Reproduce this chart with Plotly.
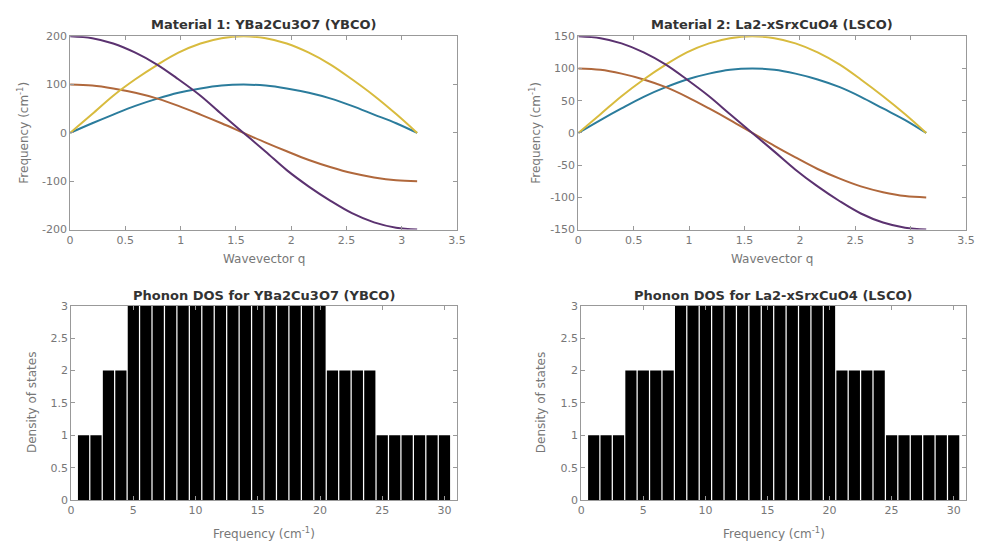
import plotly.graph_objects as go

# ---------------- data ----------------
wavevector_q = [0, 0.2, 0.39, 0.59, 0.79, 0.98, 1.18, 1.37, 1.57, 1.77, 1.96, 2.16, 2.36, 2.55, 2.75, 2.95, 3.14]

ybco_blue = [0, 20, 38, 56, 71, 83, 92, 98, 100, 98, 92, 83, 71, 56, 38, 20, 0]
ybco_orange = [100, 98, 92, 83, 71, 56, 38, 20, 0, -20, -38, -56, -71, -83, -92, -98, -100]
ybco_yellow = [0, 39, 77, 111, 141, 166, 185, 196, 200, 196, 185, 166, 141, 111, 77, 39, 0]
ybco_purple = [200, 196, 185, 166, 141, 111, 77, 39, 0, -39, -77, -111, -141, -166, -185, -196, -200]

lsco_blue = [0, 20, 38, 56, 71, 83, 92, 98, 100, 98, 92, 83, 71, 56, 38, 20, 0]
lsco_orange = [100, 98, 92, 83, 71, 56, 38, 20, 0, -20, -38, -56, -71, -83, -92, -98, -100]
lsco_yellow = [0, 29, 57, 83, 106, 125, 139, 147, 150, 147, 139, 125, 106, 83, 57, 29, 0]
lsco_purple = [150, 147, 139, 125, 106, 83, 57, 29, 0, -29, -57, -83, -106, -125, -139, -147, -150]

dos_freq = list(range(1, 31))
ybco_dos = [1, 1, 2, 2, 3, 3, 3, 3, 3, 3, 3, 3, 3, 3, 3, 3, 3, 3, 3, 3, 2, 2, 2, 2, 1, 1, 1, 1, 1, 1]
lsco_dos = [1, 1, 1, 2, 2, 2, 2, 3, 3, 3, 3, 3, 3, 3, 3, 3, 3, 3, 3, 3, 2, 2, 2, 2, 1, 1, 1, 1, 1, 1]

titles = ["Material 1: YBa2Cu3O7 (YBCO)", "Material 2: La2-xSrxCuO4 (LSCO)",
          "Phonon DOS for YBa2Cu3O7 (YBCO)", "Phonon DOS for La2-xSrxCuO4 (LSCO)"]

q_ticks = [0, 0.5, 1, 1.5, 2, 2.5, 3, 3.5]
ybco_freq_ticks = [-200, -100, 0, 100, 200]
lsco_freq_ticks = [-150, -100, -50, 0, 50, 100, 150]
dos_x_ticks = [0, 5, 10, 15, 20, 25, 30]
dos_y_ticks = [0, 0.5, 1, 1.5, 2, 2.5, 3]

# ---------------- style ----------------
colors = ["#2b7c9c", "#b0683c", "#d8bb3e", "#5b3270"]
FONT = "DejaVu Sans, sans-serif"
W, H = 983, 551

fig = go.Figure()

def add_curves(xa, ya, series):
    for vals, c in zip(series, colors):
        fig.add_trace(go.Scatter(x=wavevector_q, y=vals, mode="lines",
                                 line=dict(color=c, width=2, shape="spline"),
                                 xaxis=xa, yaxis=ya, showlegend=False))

add_curves("x", "y", [ybco_blue, ybco_orange, ybco_yellow, ybco_purple])
add_curves("x2", "y2", [lsco_blue, lsco_orange, lsco_yellow, lsco_purple])

fig.add_trace(go.Bar(x=dos_freq, y=ybco_dos, marker=dict(color="black", line=dict(width=0)),
                     xaxis="x3", yaxis="y3", showlegend=False))
fig.add_trace(go.Bar(x=dos_freq, y=lsco_dos, marker=dict(color="black", line=dict(width=0)),
                     xaxis="x4", yaxis="y4", showlegend=False))

def px_x(p):
    return p / W

def px_y(p):
    return 1 - p / H

def fmt(v):
    return ("%g" % v)

axcommon = dict(showgrid=False, zeroline=False, showline=True, linecolor="#999999", linewidth=1,
                mirror="ticks", ticks="inside", ticklen=4, tickcolor="#999999",
                tickfont=dict(family=FONT, size=11, color="#777777"))

def ticks(vals):
    return dict(tickvals=vals, ticktext=[fmt(v) for v in vals])

dom = {
    1: ([px_x(67), px_x(459)], [px_y(229), px_y(31)]),
    2: ([px_x(582), px_x(975)], [px_y(229), px_y(31)]),
    3: ([px_x(68), px_x(459)], [px_y(506), px_y(307)]),
    4: ([px_x(585), px_x(975)], [px_y(506), px_y(307)]),
}

layout = dict(width=W, height=H, margin=dict(l=0, r=0, t=0, b=0),
              plot_bgcolor="white", paper_bgcolor="white", bargap=0.1,
              font=dict(family=FONT))

layout["xaxis"] = dict(domain=dom[1][0], anchor="y", range=[0, 3.5], **ticks(q_ticks), **axcommon)
layout["yaxis"] = dict(domain=dom[1][1], anchor="x", range=[-200, 200], **ticks(ybco_freq_ticks), **axcommon)
layout["xaxis2"] = dict(domain=dom[2][0], anchor="y2", range=[0, 3.5], **ticks(q_ticks), **axcommon)
layout["yaxis2"] = dict(domain=dom[2][1], anchor="x2", range=[-150, 150], **ticks(lsco_freq_ticks), **axcommon)
layout["xaxis3"] = dict(domain=dom[3][0], anchor="y3", range=[0, 31], **ticks(dos_x_ticks), **axcommon)
layout["yaxis3"] = dict(domain=dom[3][1], anchor="x3", range=[0, 3], **ticks(dos_y_ticks), **axcommon)
layout["xaxis4"] = dict(domain=dom[4][0], anchor="y4", range=[0, 31], **ticks(dos_x_ticks), **axcommon)
layout["yaxis4"] = dict(domain=dom[4][1], anchor="x4", range=[0, 3], **ticks(dos_y_ticks), **axcommon)

annotations = []
title_pos = [((67 + 459) / 2, 19), ((582 + 975) / 2, 19), ((68 + 459) / 2, 296), ((585 + 975) / 2, 296)]
for t, (cx, cy) in zip(titles, title_pos):
    annotations.append(dict(text="<b>" + t + "</b>", x=px_x(cx), y=px_y(cy), xref="paper", yref="paper",
                            showarrow=False, xanchor="center", yanchor="middle",
                            font=dict(family=FONT, size=13, color="#333333")))

xlabels = [("Wavevector q", (67 + 459) / 2, 259), ("Wavevector q", (582 + 975) / 2, 259),
           ("Frequency (cm<sup>-1</sup>)", (68 + 459) / 2, 540), ("Frequency (cm<sup>-1</sup>)", (585 + 975) / 2, 540)]
for t, cx, cy in xlabels:
    annotations.append(dict(text=t, x=px_x(cx), y=px_y(cy), xref="paper", yref="paper", showarrow=False,
                            xanchor="center", yanchor="middle", font=dict(family=FONT, size=12, color="#777777")))

ylabels = [("Frequency (cm<sup>-1</sup>)", 19, 130), ("Frequency (cm<sup>-1</sup>)", 538, 130),
           ("Density of states", 29, 406), ("Density of states", 545, 406)]
for t, cx, cy in ylabels:
    annotations.append(dict(text=t, x=px_x(cx), y=px_y(cy), xref="paper", yref="paper", showarrow=False,
                            textangle=-90, xanchor="center", yanchor="middle",
                            font=dict(family=FONT, size=12, color="#777777")))

layout["annotations"] = annotations
fig.update_layout(**layout)

fig.write_html("out.html")
